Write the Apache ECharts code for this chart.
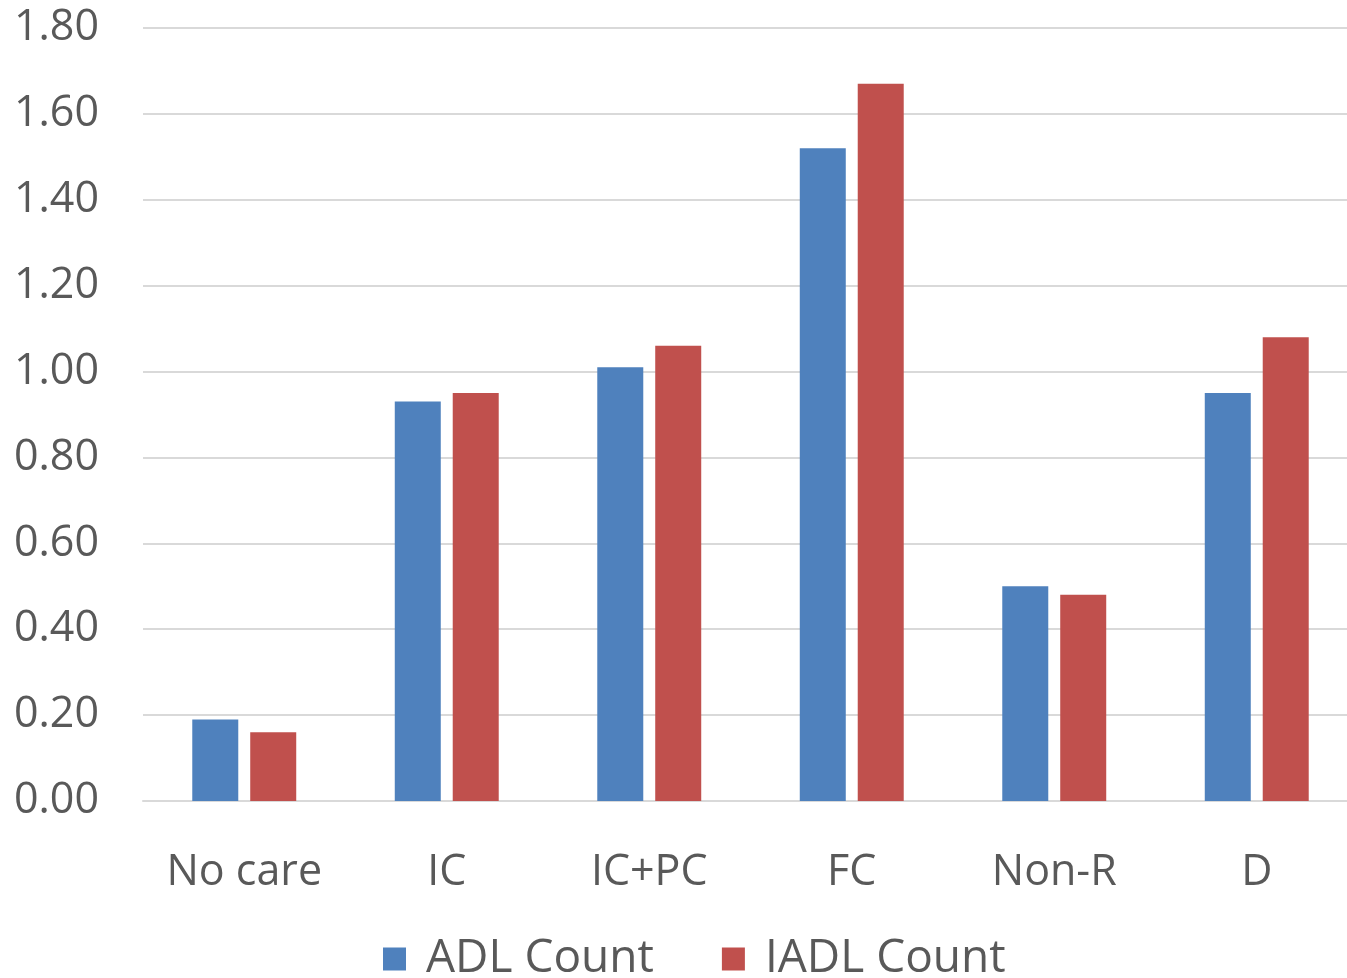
<!DOCTYPE html>
<html>
<head>
<meta charset="utf-8">
<script src="https://cdn.jsdelivr.net/npm/echarts@6/dist/echarts.min.js"></script>
<style>
  html, body { margin: 0; padding: 0; background: #ffffff; overflow: hidden; }
  /* plot area runs slightly past the right edge of the window */
  #chart { width: 1358px; height: 978px; }
</style>
</head>
<body>
<div id="chart"></div>
<script>
// Care categories along the x axis
const categories = ['No care', 'IC', 'IC+PC', 'FC', 'Non-R', 'D'];

// Mean counts per category
const adlCount = [0.19, 0.93, 1.01, 1.52, 0.50, 0.95];
const iadlCount = [0.16, 0.95, 1.06, 1.67, 0.48, 1.08];

const seriesNames = ['ADL Count', 'IADL Count'];

const FONT = 'Open Sans';
const TEXT_COLOR = '#595959';

const chart = echarts.init(document.getElementById('chart'), null, { renderer: 'canvas' });

chart.setOption({
  animation: false,
  backgroundColor: '#ffffff',
  grid: {
    left: 143,
    right: 0,
    top: 28,
    bottom: 177,
    containLabel: false
  },
  legend: {
    data: seriesNames,
    left: 383,
    top: 936,
    padding: 0,
    itemWidth: 23,
    itemHeight: 23,
    itemGap: 68,
    icon: 'rect',
    textStyle: {
      fontFamily: FONT,
      fontSize: 46,
      color: TEXT_COLOR,
      padding: [0, 0, 0, 15]
    }
  },
  xAxis: {
    type: 'category',
    data: categories,
    axisLine: { show: true, lineStyle: { color: '#d9d9d9', width: 2 } },
    axisTick: { show: false },
    axisLabel: {
      interval: 0,
      fontFamily: FONT,
      fontSize: 43,
      color: TEXT_COLOR,
      margin: 50
    }
  },
  yAxis: {
    type: 'value',
    min: 0,
    max: 1.8,
    interval: 0.2,
    axisLine: { show: false },
    axisTick: { show: false },
    splitLine: { lineStyle: { color: '#d9d9d9', width: 2 } },
    axisLabel: {
      fontFamily: FONT,
      fontSize: 43,
      color: TEXT_COLOR,
      margin: 44,
      verticalAlign: 'middle',
      lineHeight: 43,
      padding: [8, 0, 0, 0],
      formatter: v => v.toFixed(2)
    }
  },
  series: [
    {
      name: seriesNames[0],
      type: 'bar',
      data: adlCount,
      barWidth: 46,
      barGap: '26%',
      itemStyle: { color: '#4f81bd' }
    },
    {
      name: seriesNames[1],
      type: 'bar',
      data: iadlCount,
      barWidth: 46,
      barGap: '26%',
      itemStyle: { color: '#c0504d' }
    }
  ]
});
</script>
</body>
</html>
